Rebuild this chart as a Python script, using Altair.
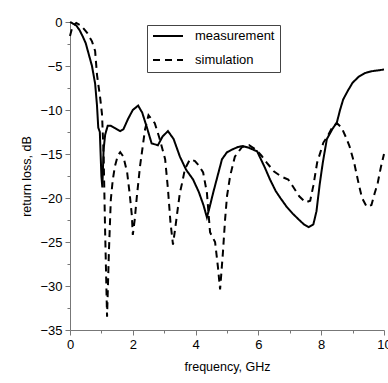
import altair as alt
import pandas as pd

meas_f = [0, 0.1, 0.2, 0.3, 0.4, 0.5, 0.6, 0.7, 0.8, 0.86, 0.9, 0.95, 1.0, 1.03, 1.07, 1.12, 1.2, 1.3, 1.45, 1.6,
          1.7, 1.85, 2.0, 2.17, 2.3, 2.45, 2.6, 2.8, 2.95, 3.12, 3.3, 3.5, 3.7, 3.92, 4.1, 4.25, 4.36, 4.45, 4.56, 4.7,
          4.84, 5.0, 5.16, 5.35, 5.5, 5.7, 5.96, 6.2, 6.37, 6.55, 6.7, 6.9, 7.1, 7.3, 7.45, 7.6, 7.75, 7.85, 7.95, 8.05,
          8.18, 8.35, 8.5, 8.6, 8.7, 8.85, 9.0, 9.2, 9.4, 9.6, 9.8, 10.0]
meas_db = [0, -0.2, -0.4, -0.9, -1.6, -2.4, -3.7, -5.0, -7.0, -9.5, -12.0, -12.5, -17.5, -18.8, -14.5, -12.8, -11.8, -11.8, -12.1, -12.4,
           -12.2, -11.0, -10.0, -9.5, -10.3, -12.0, -13.8, -14.0, -13.0, -12.4, -13.3, -15.3, -16.8, -17.9, -19.3, -20.8, -22.2, -21.0, -19.4, -17.5,
           -15.6, -14.8, -14.5, -14.2, -14.1, -14.3, -14.7, -16.5, -17.9, -19.2, -20.0, -21.0, -21.8, -22.5, -23.0, -23.3, -23.0, -21.5, -18.5, -16.0,
           -13.3, -12.2, -11.4, -10.0, -8.8, -7.8, -6.9, -6.2, -5.8, -5.6, -5.5, -5.4]

sim_f = [0, 0.08, 0.2, 0.35, 0.54, 0.7, 0.8, 0.86, 0.96, 1.02, 1.07, 1.12, 1.18, 1.24, 1.3, 1.36, 1.43, 1.52, 1.6, 1.7,
         1.82, 1.9, 1.97, 2.0, 2.06, 2.13, 2.23, 2.39, 2.5, 2.7, 2.85, 3.03, 3.12, 3.2, 3.28, 3.36, 3.44, 3.5, 3.57, 3.66,
         3.82, 3.98, 4.1, 4.24, 4.36, 4.46, 4.62, 4.71, 4.78, 4.87, 4.94, 5.0, 5.1, 5.25, 5.48, 5.7, 5.92, 6.1, 6.27, 6.5,
         6.75, 6.95, 7.1, 7.3, 7.5, 7.65, 7.75, 7.87, 8.07, 8.2, 8.35, 8.5, 8.65, 8.8, 8.9, 9.05, 9.2, 9.3, 9.45, 9.6,
         9.7, 9.8, 9.9, 10.0]
sim_db = [-1.6, -0.5, -0.1, -0.4, -1.2, -2.2, -3.3, -6.0, -8.6, -10.5, -15, -24, -33.5, -26, -20.2, -18, -16.4, -15.2, -14.8, -15.3,
          -17.1, -19.5, -22.0, -24.2, -22.5, -19.8, -16.4, -12.2, -10.6, -11.5, -13.2, -15.6, -19.0, -22.8, -25.3, -23.2, -21, -19.4, -18.3, -16.7,
          -15.6, -15.8, -16.3, -17.1, -19.4, -23.9, -25.0, -27.8, -30.4, -26.2, -22.4, -19.8, -17.5, -15.3, -14.2, -14.0, -14.5, -15.2, -16.0, -17.0,
          -17.6, -17.9, -18.7, -19.8, -20.5, -20.3, -18.6, -16.0, -13.7, -13.0, -12.0, -11.5, -12.0, -13.2, -14.1, -16.0, -18.5, -20.0, -21.0, -20.8,
          -19.5, -18.3, -16.5, -15.0]

series_names = ["measurement", "simulation"]
x_ticks = list(range(0, 11))
y_ticks = [-35 + 2.5 * i for i in range(15)]

rows = []
for f, d in zip(meas_f, meas_db):
    rows.append({"f": f, "db": d, "series": series_names[0], "order": len(rows)})
for f, d in zip(sim_f, sim_db):
    rows.append({"f": f, "db": d, "series": series_names[1], "order": len(rows)})
df = pd.DataFrame(rows)

FONT = "Liberation Sans"

chart = alt.Chart(df).mark_line(color="black", strokeWidth=2).encode(
    x=alt.X("f:Q", scale=alt.Scale(domain=[0, 10], nice=False),
            axis=alt.Axis(title="frequency, GHz", values=x_ticks, grid=False, labelFlush=False,
                          labelExpr="datum.value % 2 === 0 ? datum.label : ''",
                          tickSize={"condition": {"test": "datum.value % 2 === 0", "value": 5}, "value": 3},
                          labelFontSize=13, titleFontSize=12.5, labelFont=FONT, titleFont=FONT,
                          labelColor="black", titleColor="black", titleFontWeight="normal",
                          domainColor="#777", tickColor="#777", labelPadding=3, titlePadding=9)),
    y=alt.Y("db:Q", scale=alt.Scale(domain=[-35, 0], nice=False),
            axis=alt.Axis(title="return loss, dB", values=y_ticks, grid=False, labelFlush=False,
                          labelExpr="datum.value % 5 === 0 ? replace(format(datum.value, 'd'), '-', '\u2212') : ''",
                          tickSize={"condition": {"test": "datum.value % 5 === 0", "value": 5}, "value": 3},
                          labelFontSize=13, titleFontSize=12.5, labelFont=FONT, titleFont=FONT,
                          labelColor="black", titleColor="black", titleFontWeight="normal",
                          domainColor="#777", tickColor="#777", labelPadding=3, titlePadding=6)),
    strokeDash=alt.StrokeDash("series:N",
                              scale=alt.Scale(domain=series_names, range=[[1, 0], [7, 5]]),
                              legend=alt.Legend(title=None, orient="none", legendX=77, legendY=3,
                                                strokeColor="#444", padding=5, symbolType="stroke",
                                                symbolSize=900, symbolStrokeWidth=2, symbolStrokeColor="black",
                                                clipHeight=12, rowPadding=11, labelOffset=11,
                                                labelFontSize=13, labelFont=FONT, labelColor="black")),
    detail="series:N",
    order="order:Q",
).properties(
    width=314, height=308,
    autosize=alt.AutoSizeParams(type="none"),
    padding={"left": 70, "top": 22, "right": 4, "bottom": 53},
).configure_view(stroke=None)

chart.save("out.html", embed_options={"renderer": "svg", "actions": False})
